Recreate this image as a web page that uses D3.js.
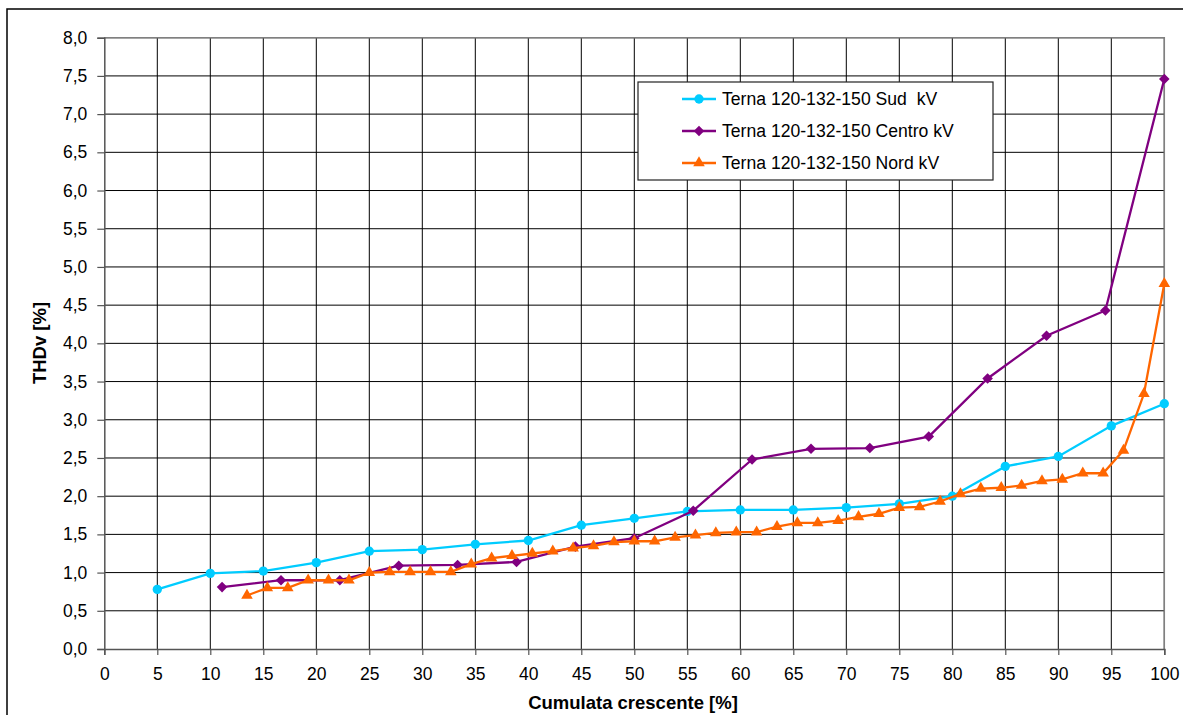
<!DOCTYPE html>
<html><head><meta charset="utf-8">
<script src="https://cdn.jsdelivr.net/npm/d3@7"></script>
<style>body{margin:0;background:#fff}svg{display:block;font-family:"Liberation Sans",Arial,sans-serif}</style>
</head><body><svg id="c" width="1183" height="715"></svg>
<script>
const sudX = [5,10,15,20,25,30,35,40,45,50,55,60,65,70,75,80,85,90,95,100];
const sudY = [0.78,0.99,1.02,1.13,1.28,1.30,1.37,1.42,1.62,1.71,1.80,1.82,1.82,1.85,1.90,2.00,2.39,2.52,2.92,3.21];
const centroX = [11.11,16.67,22.22,27.78,33.33,38.89,44.44,50,55.56,61.11,66.67,72.22,77.78,83.33,88.89,94.44,100];
const centroY = [0.81,0.90,0.90,1.09,1.10,1.14,1.34,1.45,1.81,2.48,2.62,2.63,2.78,3.54,4.10,4.43,7.46];
const nordX = [13.46,15.38,17.31,19.23,21.15,23.08,25.00,26.92,28.85,30.77,32.69,34.62,36.54,38.46,40.38,42.31,44.23,46.15,48.08,50.00,51.92,53.85,55.77,57.69,59.62,61.54,63.46,65.38,67.31,69.23,71.15,73.08,75.00,76.92,78.85,80.77,82.69,84.62,86.54,88.46,90.38,92.31,94.23,96.15,98.08,100];
const nordY = [0.70,0.80,0.80,0.90,0.90,0.90,1.00,1.01,1.01,1.01,1.01,1.11,1.19,1.22,1.25,1.28,1.32,1.35,1.40,1.41,1.41,1.46,1.49,1.52,1.53,1.53,1.60,1.65,1.65,1.68,1.73,1.77,1.85,1.86,1.93,2.03,2.10,2.11,2.14,2.20,2.22,2.30,2.30,2.60,3.34,4.78];
const seriesNames = ["Terna 120-132-150 Sud  kV","Terna 120-132-150 Centro kV","Terna 120-132-150 Nord kV"];
const xTicks = d3.range(0,101,5);
const yTicks = d3.range(0,8.01,0.5);

const svg = d3.select("#c");
const L=104.3, R=1164.3, T=37.7, B=649;
const x = d3.scaleLinear().domain([0,100]).range([L,R]);
const y = d3.scaleLinear().domain([0,8]).range([B,T]);

svg.append("rect").attr("x",7).attr("y",9).attr("width",1200).attr("height",720)
  .attr("fill","#fff").attr("stroke","#000").attr("stroke-width",1.5);

const g = svg.append("g");
g.selectAll(".gy").data(yTicks.filter(d=>d>0)).enter().append("line")
  .attr("x1",L).attr("x2",R).attr("y1",d=>y(d)).attr("y2",d=>y(d)).attr("stroke","#000").attr("stroke-width",1);
g.selectAll(".gx").data(xTicks.filter(d=>d>0)).enter().append("line")
  .attr("y1",T).attr("y2",B).attr("x1",d=>x(d)).attr("x2",d=>x(d)).attr("stroke","#000").attr("stroke-width",1);
svg.append("path").attr("d",`M${L},${T}H${R}V${B}`).attr("fill","none").attr("stroke","#808080").attr("stroke-width",1.5);

const ya = svg.append("g").attr("transform",`translate(${L},0)`)
  .call(d3.axisLeft(y).tickValues(yTicks).tickSize(7).tickPadding(10).tickFormat(d=>d3.format(".1f")(d).replace(".",",")));
const xa = svg.append("g").attr("transform",`translate(0,${B})`)
  .call(d3.axisBottom(x).tickValues(xTicks).tickSize(6).tickPadding(13).tickFormat(d3.format("d")));
[ya,xa].forEach(a=>{
  a.select(".domain").attr("stroke","#555").attr("stroke-width",1.5);
  a.selectAll(".tick line").attr("stroke","#555").attr("stroke-width",1.2);
  a.selectAll("text").attr("font-size",17.5).attr("fill","#000").attr("font-family","Liberation Sans, Arial, sans-serif");
});

svg.append("text").attr("transform","translate(46,343) rotate(-90)").attr("text-anchor","middle")
  .attr("font-size",18.5).attr("font-weight","bold").text("THDv [%]");
svg.append("text").attr("x",633).attr("y",709).attr("text-anchor","middle")
  .attr("font-size",18.5).attr("font-weight","bold").text("Cumulata crescente [%]");

const line = d3.line().x(d=>x(d[0])).y(d=>y(d[1]));
const diamond = d3.symbol().type(d3.symbolSquare).size(56)();
const series = [
  {xs:sudX, ys:sudY, color:"#00CCFF", path:d3.symbol().type(d3.symbolCircle).size(68)(), rot:0},
  {xs:centroX, ys:centroY, color:"#800080", path:diamond, rot:45},
  {xs:nordX, ys:nordY, color:"#FF6600", path:d3.symbol().type(d3.symbolTriangle).size(58)(), rot:0}
];
series.forEach(s=>{
  const pts = s.xs.map((v,i)=>[v,s.ys[i]]);
  svg.append("path").datum(pts).attr("d",line).attr("fill","none").attr("stroke",s.color).attr("stroke-width",2.3);
  svg.append("g").selectAll("path").data(pts).enter().append("path")
    .attr("d",s.path)
    .attr("transform",d=>`translate(${x(d[0])},${y(d[1])}) rotate(${s.rot})`)
    .attr("fill",s.color);
});

const lg = svg.append("g");
lg.append("rect").attr("x",638).attr("y",82).attr("width",355).attr("height",98)
  .attr("fill","#fff").attr("stroke","#222").attr("stroke-width",1.2);
series.forEach((s,i)=>{
  const yy = 99 + i*32;
  lg.append("line").attr("x1",682).attr("x2",716).attr("y1",yy).attr("y2",yy).attr("stroke",s.color).attr("stroke-width",2.3);
  lg.append("path").attr("d",s.path)
    .attr("transform",`translate(699,${yy}) rotate(${s.rot})`).attr("fill",s.color);
  lg.append("text").attr("x",722).attr("y",yy+6).attr("font-size",17.6).text(seriesNames[i]).style("white-space","pre");
});
</script></body></html>
